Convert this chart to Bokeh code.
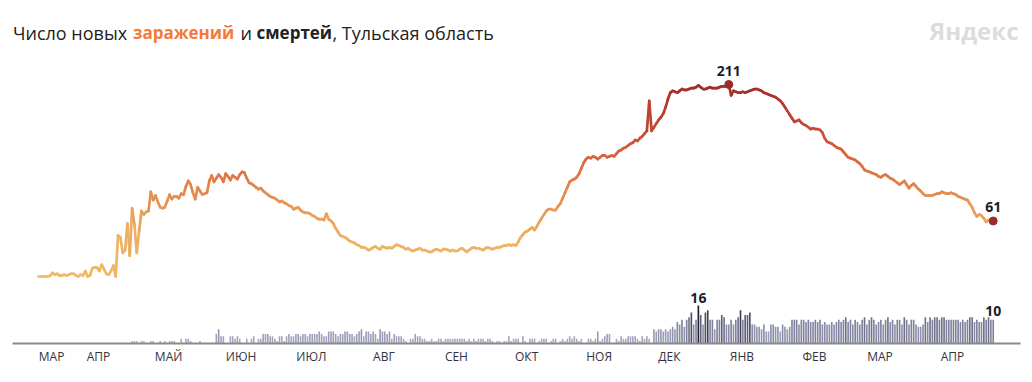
import pandas as pd
from bokeh.plotting import figure
from bokeh.models import (Range1d, FixedTicker, CustomJSTickFormatter, Label,
                          ColumnDataSource)
from bokeh.core.properties import value
from bokeh.embed import file_html
from bokeh.resources import INLINE

# ---------------- data ----------------
start_date = "2020-03-12"

cases = [
    0, 0, 0, 0, 0, 1, 4, 2, 3, 1,
    1, 2, 1, 2, 3, 3, 1, 0, 2, 1,
    6, 0, 1, 9, 10, 10, 6, 13, 8, 3,
    2, 6, 12, 0, 45, 43, 26, 29, 58, 23,
    75, 57, 26, 50, 72, 68, 71, 72, 93, 84,
    89, 82, 76, 75, 76, 83, 90, 85, 88, 88,
    86, 91, 90, 99, 105, 101, 92, 85, 98, 94,
    90, 91, 92, 105, 111, 104, 108, 112, 109, 104,
    113, 110, 106, 111, 109, 107, 112, 115, 114, 108,
    103, 102, 100, 98, 96, 97, 94, 92, 90, 88,
    87, 86, 84, 82, 83, 81, 80, 78, 77, 74,
    75, 76, 73, 71, 70, 70, 69, 67, 66, 64,
    63, 63, 62, 69, 63, 61, 58, 53, 49, 45,
    44, 43, 41, 39, 38, 37, 35, 34, 32, 32,
    31, 29, 30, 32, 33, 31, 30, 33, 32, 31,
    32, 31, 33, 35, 34, 33, 32, 30, 31, 29,
    28, 29, 30, 31, 29, 29, 28, 27, 27, 29,
    30, 29, 28, 30, 30, 29, 28, 29, 28, 28,
    30, 31, 29, 27, 29, 31, 32, 31, 31, 30,
    29, 31, 32, 31, 30, 31, 32, 32, 33, 34,
    34, 35, 34, 35, 34, 38, 43, 46, 49, 50,
    52, 54, 51, 55, 60, 64, 68, 72, 74, 74,
    73, 73, 77, 80, 86, 92, 98, 104, 106, 107,
    109, 113, 119, 125, 129, 131, 130, 132, 131, 129,
    131, 133, 133, 131, 132, 133, 132, 135, 138, 139,
    141, 142, 144, 146, 147, 150, 149, 152, 154, 157,
    160, 193, 160, 164, 168, 172, 175, 179, 186, 195,
    202, 204, 203, 202, 204, 206, 205, 205, 206, 207,
    207, 208, 210, 208, 206, 206, 207, 208, 207, 207,
    207, 208, 209, 209, 209, 211, 199, 204, 203, 202,
    202, 203, 202, 203, 204, 205, 206, 206, 205, 204,
    202, 201, 200, 199, 198, 197, 195, 193, 190, 186,
    182, 178, 174, 170, 171, 172, 169, 167, 166, 164,
    162, 163, 162, 162, 161, 158, 152, 148, 147, 146,
    144, 142, 141, 140, 137, 134, 131, 130, 129, 128,
    126, 124, 121, 117, 116, 115, 114, 113, 112, 110,
    109, 111, 112, 110, 108, 107, 105, 103, 101, 103,
    105, 101, 97, 100, 102, 99, 96, 94, 91, 89,
    89, 89, 89, 90, 91, 91, 93, 92, 91, 91,
    92, 91, 90, 88, 87, 86, 85, 84, 80, 76,
    70, 66, 68, 67, 64, 60, 62, 61, 61,
]

deaths = [
    0, 0, 0, 0, 0, 0, 0, 0, 0, 0,
    0, 0, 0, 0, 0, 0, 0, 0, 0, 0,
    0, 0, 0, 0, 0, 0, 0, 0, 0, 0,
    0, 0, 0, 0, 0, 0, 0, 0, 0, 0,
    1, 1, 1, 0, 1, 1, 0, 0, 1, 1,
    0, 0, 1, 0, 1, 0, 1, 1, 1, 0,
    0, 2, 0, 2, 2, 1, 0, 0, 0, 1,
    0, 0, 0, 0, 0, 0, 4, 6, 3, 3,
    0, 0, 3, 3, 2, 3, 2, 0, 0, 2,
    0, 2, 3, 0, 2, 2, 4, 4, 4, 3,
    3, 2, 1, 3, 3, 1, 3, 4, 3, 3,
    4, 4, 3, 4, 4, 3, 4, 4, 4, 4,
    5, 4, 3, 3, 5, 5, 5, 4, 3, 4,
    4, 5, 5, 4, 4, 3, 4, 5, 6, 3,
    5, 5, 4, 5, 4, 2, 6, 5, 5, 4,
    5, 2, 4, 3, 3, 3, 2, 1, 0, 2,
    2, 4, 3, 3, 2, 2, 1, 1, 2, 1,
    1, 2, 2, 1, 2, 2, 2, 2, 2, 2,
    2, 2, 2, 1, 2, 1, 2, 1, 2, 2,
    2, 1, 2, 2, 1, 0, 1, 1, 0, 1,
    1, 3, 1, 2, 2, 2, 0, 3, 1, 0,
    2, 2, 2, 0, 1, 2, 2, 2, 0, 1,
    2, 2, 0, 1, 2, 1, 2, 3, 2, 3,
    2, 1, 2, 0, 0, 2, 2, 1, 2, 5,
    1, 2, 3, 4, 4, 0, 0, 2, 1, 3,
    2, 2, 3, 3, 3, 3, 2, 1, 3, 2,
    3, 2, 0, 6, 5, 6, 6, 5, 6, 5,
    6, 7, 6, 9, 8, 10, 7, 10, 11, 13,
    8, 10, 16, 12, 8, 13, 14, 10, 10, 6,
    10, 10, 12, 11, 8, 8, 10, 8, 10, 11,
    14, 10, 12, 12, 13, 8, 8, 7, 7, 6,
    8, 5, 5, 8, 8, 7, 7, 5, 8, 7,
    6, 7, 10, 10, 10, 8, 10, 10, 9, 10,
    9, 9, 10, 9, 10, 8, 9, 8, 8, 9,
    8, 9, 10, 9, 10, 11, 9, 10, 8, 10,
    9, 8, 10, 11, 8, 10, 11, 10, 8, 9,
    10, 8, 10, 11, 9, 10, 8, 10, 10, 8,
    11, 10, 8, 10, 10, 8, 7, 7, 8, 11,
    9, 11, 10, 11, 11, 10, 11, 11, 10, 10,
    10, 10, 10, 10, 9, 10, 9, 10, 11, 11,
    9, 10, 9, 9, 11, 10, 11, 10, 10,
]

month_starts = ["2020-03-01", "2020-04-01", "2020-05-01", "2020-06-01",
                "2020-07-01", "2020-08-01", "2020-09-01", "2020-10-01",
                "2020-11-01", "2020-12-01", "2021-01-01", "2021-02-01",
                "2021-03-01", "2021-04-01"]
month_labels = ["МАР", "АПР", "МАЙ", "ИЮН", "ИЮЛ", "АВГ", "СЕН", "ОКТ",
                "НОЯ", "ДЕК", "ЯНВ", "ФЕВ", "МАР", "АПР"]

title_parts = ["Число новых", "заражений", "и", "смертей", ", Тульская область"]
watermark = "Яндекс"

# ---------------- styling helpers ----------------
FONT = "Open Sans"


def hex2rgb(h):
    h = h.lstrip("#")
    return tuple(int(h[i:i + 2], 16) for i in (0, 2, 4))


def ramp(v, stops):
    if v <= stops[0][0]:
        return stops[0][1]
    for (v0, c0), (v1, c1) in zip(stops[:-1], stops[1:]):
        if v <= v1:
            t = (v - v0) / (v1 - v0)
            a, b = hex2rgb(c0), hex2rgb(c1)
            return "#%02x%02x%02x" % tuple(round(a[i] + (b[i] - a[i]) * t) for i in range(3))
    return stops[-1][1]


case_stops = [(0, "#efba68"), (40, "#edb163"), (70, "#e99e57"), (100, "#e3834a"),
              (130, "#da653e"), (160, "#c94c35"), (190, "#b3392f"), (211, "#9e2b2b")]
death_stops = [(0, "#b0b2ca"), (5, "#9c9eba"), (10, "#80829d"), (13, "#4d4f68"),
               (16, "#1e1f2d")]

dates = pd.date_range(start_date, periods=len(cases), freq="D")
day = pd.Timedelta(days=1)

# ---------------- figure ----------------
p = figure(width=1032, height=382, x_axis_type="datetime",
           x_range=Range1d(dates[0] - 11.11 * day, dates[0] + 419.66 * day),
           y_range=Range1d(-73.63, 303.3),
           output_backend="svg", toolbar_location=None,
           min_border_left=12, min_border_right=12, min_border_top=0,
           min_border_bottom=39, y_axis_location=None)
p.extra_y_ranges = {"deaths": Range1d(0, 144.42)}
p.xgrid.visible = False
p.ygrid.visible = False
p.outline_line_color = None
p.background_fill_color = "white"
p.border_fill_color = "white"

# axis with month names
tick_ms = []
for m in month_starts:
    t = max(pd.Timestamp(m), dates[0]) + 5.6 * day
    tick_ms.append(t.value / 1e6)
p.xaxis.ticker = FixedTicker(ticks=tick_ms, minor_ticks=[])
p.xaxis.formatter = CustomJSTickFormatter(args=dict(tk=tick_ms, nm=month_labels), code="""
let best = 0, bd = Infinity;
for (let i = 0; i < tk.length; i++) {
  const d = Math.abs(tk[i] - tick);
  if (d < bd) { bd = d; best = i; }
}
return nm[best];
""")
p.xaxis.axis_line_color = "#8a8a8a"
p.xaxis.axis_line_width = 2
p.xaxis.major_tick_line_color = None
p.xaxis.minor_tick_line_color = None
p.xaxis.major_tick_out = 0
p.xaxis.major_tick_in = 0
p.xaxis.major_label_standoff = 4
p.xaxis.major_label_text_font = FONT
p.xaxis.major_label_text_font_size = "12px"
p.xaxis.major_label_text_color = "#333340"

# deaths bars
bar_src = ColumnDataSource(dict(x=dates, top=deaths,
                                c=[ramp(v, death_stops) for v in deaths]))
p.vbar(x="x", top="top", width=0.7 * 86400000, fill_color="c", line_color=None,
       source=bar_src, y_range_name="deaths")

# cases line, coloured by value
seg_src = ColumnDataSource(dict(
    x0=dates[:-1], x1=dates[1:], y0=cases[:-1], y1=cases[1:],
    c=[ramp((a + b) / 2, case_stops) for a, b in zip(cases[:-1], cases[1:])]))
p.segment(x0="x0", y0="y0", x1="x1", y1="y1", line_color="c", line_width=2.7,
          line_cap="round", source=seg_src)

imax = max(range(len(cases)), key=lambda i: cases[i])
ilast = len(cases) - 1
p.scatter(x=[dates[imax], dates[ilast]], y=[cases[imax], cases[ilast]], size=8,
          color="#9b2a2a")
p.text(x=[dates[imax]], y=[cases[imax]], text=[str(cases[imax])], y_offset=-13,
       text_align="center", text_baseline="alphabetic", text_font=value(FONT),
       text_font_style="bold", text_font_size="14px", text_color="#1c1c2a")
p.text(x=[dates[ilast]], y=[cases[ilast]], text=[str(cases[ilast])], y_offset=-13.5,
       text_align="center", text_baseline="alphabetic", text_font=value(FONT),
       text_font_style="bold", text_font_size="14px", text_color="#1c1c2a")

dmax = max(range(len(deaths)), key=lambda i: deaths[i])
p.text(x=[dates[dmax]], y=[deaths[dmax]], text=[str(deaths[dmax])], y_offset=-7,
       text_align="center", text_baseline="alphabetic", text_font=value(FONT),
       text_font_style="bold", text_font_size="14px", text_color="#1c1c2a",
       y_range_name="deaths")
p.text(x=[dates[ilast]], y=[deaths[ilast]], text=[str(deaths[ilast])], y_offset=-8.5,
       text_align="center", text_baseline="alphabetic", text_font=value(FONT),
       text_font_style="bold", text_font_size="14px", text_color="#1c1c2a",
       y_range_name="deaths")

# title pieces (screen units relative to the frame: left edge 12px, bottom 343px)
title_x = [0.5, 120.5, 228, 244, 320]
title_col = ["#222222", "#f47a38", "#222222", "#222222", "#222222"]
title_w = ["normal", "bold", "normal", "bold", "normal"]
title_sz = ["18px", "17px", "18px", "17px", "18px"]
for txt, xx, col, w, sz in zip(title_parts, title_x, title_col, title_w, title_sz):
    p.add_layout(Label(x=xx, y=311, x_units="screen", y_units="screen", text=txt,
                       text_font=FONT, text_font_size=sz, text_color=col,
                       text_font_style=w, text_baseline="alphabetic",
                       text_align="left"))
p.add_layout(Label(x=1006, y=313.5, x_units="screen", y_units="screen",
                   text=watermark, text_font=FONT, text_font_size="24px",
                   text_color="#dcdcdc", text_font_style="bold",
                   text_baseline="alphabetic", text_align="right"))

open("out.html", "w").write(file_html(p, INLINE))
